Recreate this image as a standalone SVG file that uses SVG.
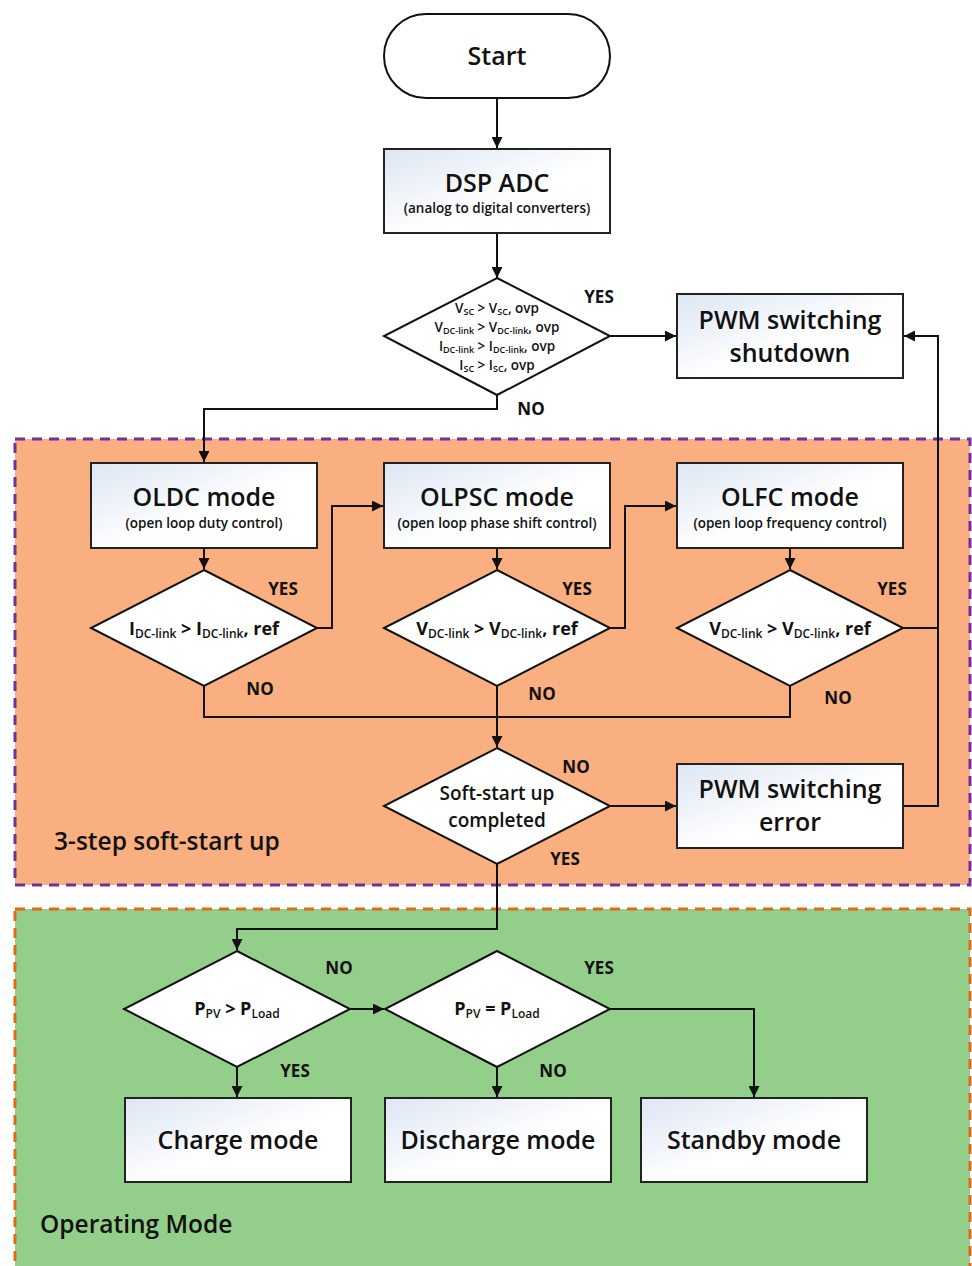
<svg xmlns="http://www.w3.org/2000/svg" width="972" height="1266" viewBox="0 0 972 1266">
<style>
  .t { font-family: "Open Sans", "Liberation Sans", sans-serif; fill: #111; text-anchor: middle; }
  .title { font-size: 25px; font-weight: 600; }
  .sub { font-size: 13.5px; font-weight: 600; }
  .lbl { font-size: 17px; font-weight: 700; }
  .cond { font-size: 18px; font-weight: 700; }
  .soft { font-size: 19px; font-weight: 600; }
  .cs { font-size: 12px; font-weight: 600; }
  .ovp { font-size: 13.5px; font-weight: 600; }
  .ovs { font-size: 9px; }
  .box { fill: url(#g); stroke: #222; stroke-width: 2; }
  .dia { fill: #fff; stroke: #111; stroke-width: 2; }
  .conn path { fill: none; stroke: #111; stroke-width: 2; }
  .region { font-family: "Open Sans", "Liberation Sans", sans-serif; font-size: 24.5px; font-weight: 600; fill: #111; }
</style>
<defs>
  <linearGradient id="g" x1="0" y1="0" x2="1" y2="1">
    <stop offset="0" stop-color="#dce6f3"/>
    <stop offset="0.55" stop-color="#ffffff"/>
    <stop offset="1" stop-color="#ffffff"/>
  </linearGradient>
  <marker id="arr" markerWidth="11" markerHeight="11" refX="11" refY="5.5" orient="auto" markerUnits="userSpaceOnUse">
    <path d="M0,0 L11,5.5 L0,11 z" fill="#111"/>
  </marker>
</defs>
<rect width="972" height="1266" fill="#ffffff"/>

<g id="region-softstart">
  <rect x="15" y="439" width="955" height="446" fill="#f9af80" stroke="#7030a0" stroke-width="3" stroke-dasharray="10 7"/>
  <text class="region" x="54" y="850">3-step soft-start up</text>
</g>
<g id="region-operating">
  <rect x="15" y="909" width="955" height="360" fill="#93ce8a" stroke="#df6a17" stroke-width="3" stroke-dasharray="10 7"/>
  <text class="region" x="40" y="1233">Operating Mode</text>
</g>

<g class="conn" id="connectors">
  <path d="M497,98 V148" marker-end="url(#arr)"/>
  <path d="M497,233 V278" marker-end="url(#arr)"/>
  <path d="M610,336 H676" marker-end="url(#arr)"/>
  <path d="M497,395 V409 H204 V462" marker-end="url(#arr)"/>
  <path d="M204,548 V569" marker-end="url(#arr)"/>
  <path d="M497,548 V569" marker-end="url(#arr)"/>
  <path d="M790,548 V569" marker-end="url(#arr)"/>
  <path d="M317,628 H332 V506 H383" marker-end="url(#arr)"/>
  <path d="M610,628 H625 V506 H676" marker-end="url(#arr)"/>
  <path d="M903,628 H938 V336 H904" marker-end="url(#arr)"/>
  <path d="M204,686 V717 H790 V686"/>
  <path d="M497,686 V747" marker-end="url(#arr)"/>
  <path d="M610,806 H676" marker-end="url(#arr)"/>
  <path d="M903,806 H938 V628"/>
  <path d="M497,864 V929 H237 V950" marker-end="url(#arr)"/>
  <path d="M350,1009 H384" marker-end="url(#arr)"/>
  <path d="M610,1009 H754 V1097" marker-end="url(#arr)"/>
  <path d="M237,1067 V1097" marker-end="url(#arr)"/>
  <path d="M497,1067 V1097" marker-end="url(#arr)"/>
</g>

<g id="start">
  <rect x="384" y="14" width="226" height="84" rx="42" ry="42" fill="#fff" stroke="#111" stroke-width="2"/>
  <text class="t title" x="497" y="65">Start</text>
</g>

<g id="dsp-adc">
  <rect class="box" x="384" y="149" width="226" height="84"/>
  <text class="t title" x="497" y="192">DSP ADC</text>
  <text class="t sub" x="497" y="213">(analog to digital converters)</text>
</g>

<g id="ovp-check">
  <polygon class="dia" points="497,278 610,336 497,395 384,336"/>
  <text class="t ovp" x="497" y="313">V<tspan class="ovs" dy="2">SC</tspan><tspan dy="-2"> &gt; V</tspan><tspan class="ovs" dy="2">SC</tspan><tspan dy="-2">, ovp</tspan></text>
  <text class="t ovp" x="497" y="332">V<tspan class="ovs" dy="2">DC-link</tspan><tspan dy="-2"> &gt; V</tspan><tspan class="ovs" dy="2">DC-link</tspan><tspan dy="-2">, ovp</tspan></text>
  <text class="t ovp" x="497" y="351">I<tspan class="ovs" dy="2">DC-link</tspan><tspan dy="-2"> &gt; I</tspan><tspan class="ovs" dy="2">DC-link</tspan><tspan dy="-2">, ovp</tspan></text>
  <text class="t ovp" x="497" y="370">I<tspan class="ovs" dy="2">SC</tspan><tspan dy="-2"> &gt; I</tspan><tspan class="ovs" dy="2">SC</tspan><tspan dy="-2">, ovp</tspan></text>
  <text class="t lbl" x="599" y="303">YES</text>
  <text class="t lbl" x="531" y="415">NO</text>
</g>

<g id="pwm-shutdown">
  <rect class="box" x="677" y="294" width="226" height="84"/>
  <text class="t title" x="790" y="329">PWM switching</text>
  <text class="t title" x="790" y="362">shutdown</text>
</g>

<g id="oldc">
  <rect class="box" x="91" y="463" width="226" height="85"/>
  <text class="t title" x="204" y="506">OLDC mode</text>
  <text class="t sub" x="204" y="528">(open loop duty control)</text>
</g>
<g id="olpsc">
  <rect class="box" x="384" y="463" width="226" height="85"/>
  <text class="t title" x="497" y="506">OLPSC mode</text>
  <text class="t sub" x="497" y="528">(open loop phase shift control)</text>
</g>
<g id="olfc">
  <rect class="box" x="677" y="463" width="226" height="85"/>
  <text class="t title" x="790" y="506">OLFC mode</text>
  <text class="t sub" x="790" y="528">(open loop frequency control)</text>
</g>

<g id="cond-idc">
  <polygon class="dia" points="204,570 317,628 204,686 91,628"/>
  <text class="t cond" x="204" y="635">I<tspan class="cs" dy="3">DC-link</tspan><tspan dy="-3"> &gt; I</tspan><tspan class="cs" dy="3">DC-link</tspan><tspan dy="-3">, ref</tspan></text>
  <text class="t lbl" x="283" y="595">YES</text>
  <text class="t lbl" x="260" y="695">NO</text>
</g>
<g id="cond-vdc1">
  <polygon class="dia" points="497,570 610,628 497,686 384,628"/>
  <text class="t cond" x="497" y="635">V<tspan class="cs" dy="3">DC-link</tspan><tspan dy="-3"> &gt; V</tspan><tspan class="cs" dy="3">DC-link</tspan><tspan dy="-3">, ref</tspan></text>
  <text class="t lbl" x="577" y="595">YES</text>
  <text class="t lbl" x="542" y="700">NO</text>
</g>
<g id="cond-vdc2">
  <polygon class="dia" points="790,570 903,628 790,686 677,628"/>
  <text class="t cond" x="790" y="635">V<tspan class="cs" dy="3">DC-link</tspan><tspan dy="-3"> &gt; V</tspan><tspan class="cs" dy="3">DC-link</tspan><tspan dy="-3">, ref</tspan></text>
  <text class="t lbl" x="892" y="595">YES</text>
  <text class="t lbl" x="838" y="704">NO</text>
</g>

<g id="softstart-done">
  <polygon class="dia" points="497,748 610,806 497,864 384,806"/>
  <text class="t soft" x="497" y="800">Soft-start up</text>
  <text class="t soft" x="497" y="827">completed</text>
  <text class="t lbl" x="576" y="773">NO</text>
  <text class="t lbl" x="565" y="865">YES</text>
</g>

<g id="pwm-error">
  <rect class="box" x="677" y="764" width="226" height="84"/>
  <text class="t title" x="790" y="798">PWM switching</text>
  <text class="t title" x="790" y="831">error</text>
</g>

<g id="cond-pgt">
  <polygon class="dia" points="237,951 350,1009 237,1067 124,1009"/>
  <text class="t cond" x="237" y="1015">P<tspan class="cs" dy="3">PV</tspan><tspan dy="-3"> &gt; P</tspan><tspan class="cs" dy="3">Load</tspan></text>
  <text class="t lbl" x="339" y="974">NO</text>
  <text class="t lbl" x="295" y="1077">YES</text>
</g>
<g id="cond-peq">
  <polygon class="dia" points="497,951 610,1009 497,1067 385,1009"/>
  <text class="t cond" x="497" y="1015">P<tspan class="cs" dy="3">PV</tspan><tspan dy="-3"> = P</tspan><tspan class="cs" dy="3">Load</tspan></text>
  <text class="t lbl" x="599" y="974">YES</text>
  <text class="t lbl" x="553" y="1077">NO</text>
</g>

<g id="charge">
  <rect class="box" x="125" y="1098" width="226" height="84"/>
  <text class="t title" x="238" y="1149">Charge mode</text>
</g>
<g id="discharge">
  <rect class="box" x="385" y="1098" width="226" height="84"/>
  <text class="t title" x="498" y="1149">Discharge mode</text>
</g>
<g id="standby">
  <rect class="box" x="641" y="1098" width="226" height="84"/>
  <text class="t title" x="754" y="1149">Standby mode</text>
</g>
</svg>
